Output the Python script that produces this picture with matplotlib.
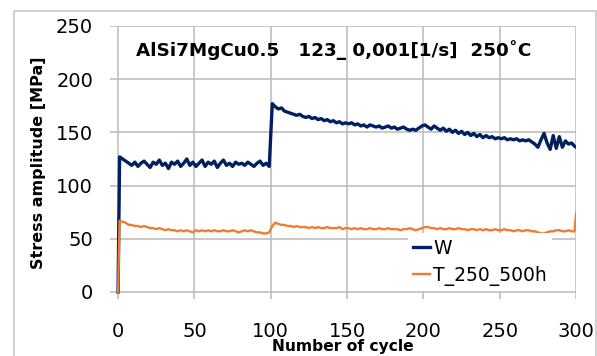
import numpy as np
import matplotlib
matplotlib.use("Agg")
import matplotlib.pyplot as plt
from matplotlib.patches import Rectangle

plt.rcParams['font.family'] = ['DejaVu Sans']

# cycles: 0, 1, 3, 5, ..., 299, 300
cycles = [0] + list(range(1, 300, 2)) + [300]

# W series
w_start = [0, 127]
w_1 = [125, 123, 121, 119, 122, 118, 121, 123, 120, 117,
       122, 120, 124, 119, 121, 116, 122, 120, 123, 118,
       121, 125, 119, 122, 118, 121, 124, 118, 122, 120,
       123, 117, 121, 124, 119, 121, 118, 122, 120, 121,
       119, 122, 120, 118, 121, 123, 119, 121, 118]
w_jump = [177]
w_2 = [174, 172, 173, 170, 169, 168, 167, 166, 167, 165,
       164, 165, 163, 164, 162, 163, 161, 162, 160, 161,
       159, 160, 158, 159, 158, 159, 157, 158, 156, 157,
       155, 157, 156, 155, 156, 154, 155, 156, 154, 155,
       153, 154, 155, 153, 152, 153, 152, 154, 156, 157,
       155, 153, 156, 154, 152, 154, 151, 153, 150, 152,
       149, 151, 148, 150, 147, 149, 146, 148, 145, 147,
       145, 146, 144, 145, 144, 145, 143, 144, 143, 144,
       142, 143, 142, 143, 141, 139, 136, 143, 149, 140,
       134, 147, 135, 146, 136, 142, 139, 140, 137]
w_end = [136]

# T_250_500h series
t_start = [0, 67]
t_1 = [66, 65, 63, 63, 62, 62, 61, 62, 61, 60,
       60, 59, 60, 59, 58, 59, 58, 58, 57, 58,
       57, 58, 57, 56, 58, 57, 58, 57, 58, 57,
       58, 57, 57, 58, 57, 57, 58, 57, 56, 57,
       58, 57, 58, 57, 56, 56, 55, 55, 56]
t_jump = [62]
t_2 = [65, 64, 63, 63, 62, 62, 61, 62, 61, 61,
       61, 60, 61, 60, 61, 60, 60, 61, 60, 60,
       60, 61, 59, 60, 60, 59, 60, 59, 60, 59,
       59, 60, 59, 59, 60, 59, 59, 60, 59, 59,
       59, 58, 59, 59, 60, 59, 58, 59, 60, 61,
       61, 60, 60, 59, 60, 59, 59, 60, 59, 59,
       60, 59, 59, 58, 59, 59, 58, 59, 58, 59,
       58, 58, 59, 58, 58, 59, 58, 58, 57, 58,
       58, 57, 58, 58, 57, 57, 56, 55, 55, 56,
       57, 57, 58, 58, 57, 57, 58, 57, 57]
t_end = [74]

w_vals = w_start + w_1 + w_jump + w_2 + w_end
t_vals = t_start + t_1 + t_jump + t_2 + t_end

fig = plt.figure(figsize=(5.97, 3.56), dpi=100)
ax = fig.add_axes([0.185, 0.159, 0.780, 0.768])

ax.plot(cycles, w_vals, color='#002060', lw=2.4, label='W', zorder=3)
ax.plot(cycles, t_vals, color='#ED7D31', lw=1.7, label='T_250_500h', zorder=4)

ax.set_xlim(-5, 300)
ax.set_ylim(-7, 250)
ax.set_xticks(range(0, 301, 50))
ax.set_yticks(range(0, 251, 50))
for s in ax.spines.values():
    s.set_visible(False)
ax.tick_params(length=0, labelsize=14)
ax.tick_params(axis='x', pad=16)
ax.tick_params(axis='y', pad=12.5)
ax.grid(True, color='#bfbfbf', linewidth=1.2)
ax.set_axisbelow(True)

ax.set_xlabel('Number of cycle', fontsize=11.2, fontweight='bold')
ax.xaxis.set_label_coords(0.5, -0.145)
ax.set_ylabel('Stress amplitude [MPa]', fontsize=11.5, fontweight='bold')
ax.yaxis.set_label_coords(-0.155, 0.5)
ax.yaxis.label.set_va('center')

ax.text(0.055, 0.912, 'AlSi7MgCu0.5   123_ 0,001[1/s]  250˚C', transform=ax.transAxes,
        fontsize=13.2, fontweight='bold', va='center', ha='left')

leg = ax.legend(loc='upper left', bbox_to_anchor=(0.683, 0.345), bbox_transform=fig.transFigure,
                frameon=True, fontsize=13.5, handlelength=0.9, handletextpad=0.15,
                labelspacing=0.42, borderpad=0.3, borderaxespad=0)
leg.get_frame().set_edgecolor('none')
leg.get_frame().set_facecolor('white')
leg.get_frame().set_alpha(1)
leg.set_zorder(5)

# light outer chart border
fig.add_artist(Rectangle((14 / 597, -0.1), 582 / 597, 1.1 - 11 / 356,
                         transform=fig.transFigure, fill=False,
                         edgecolor='#c8c8c8', lw=1.2))

fig.savefig('out.png', dpi=100)
